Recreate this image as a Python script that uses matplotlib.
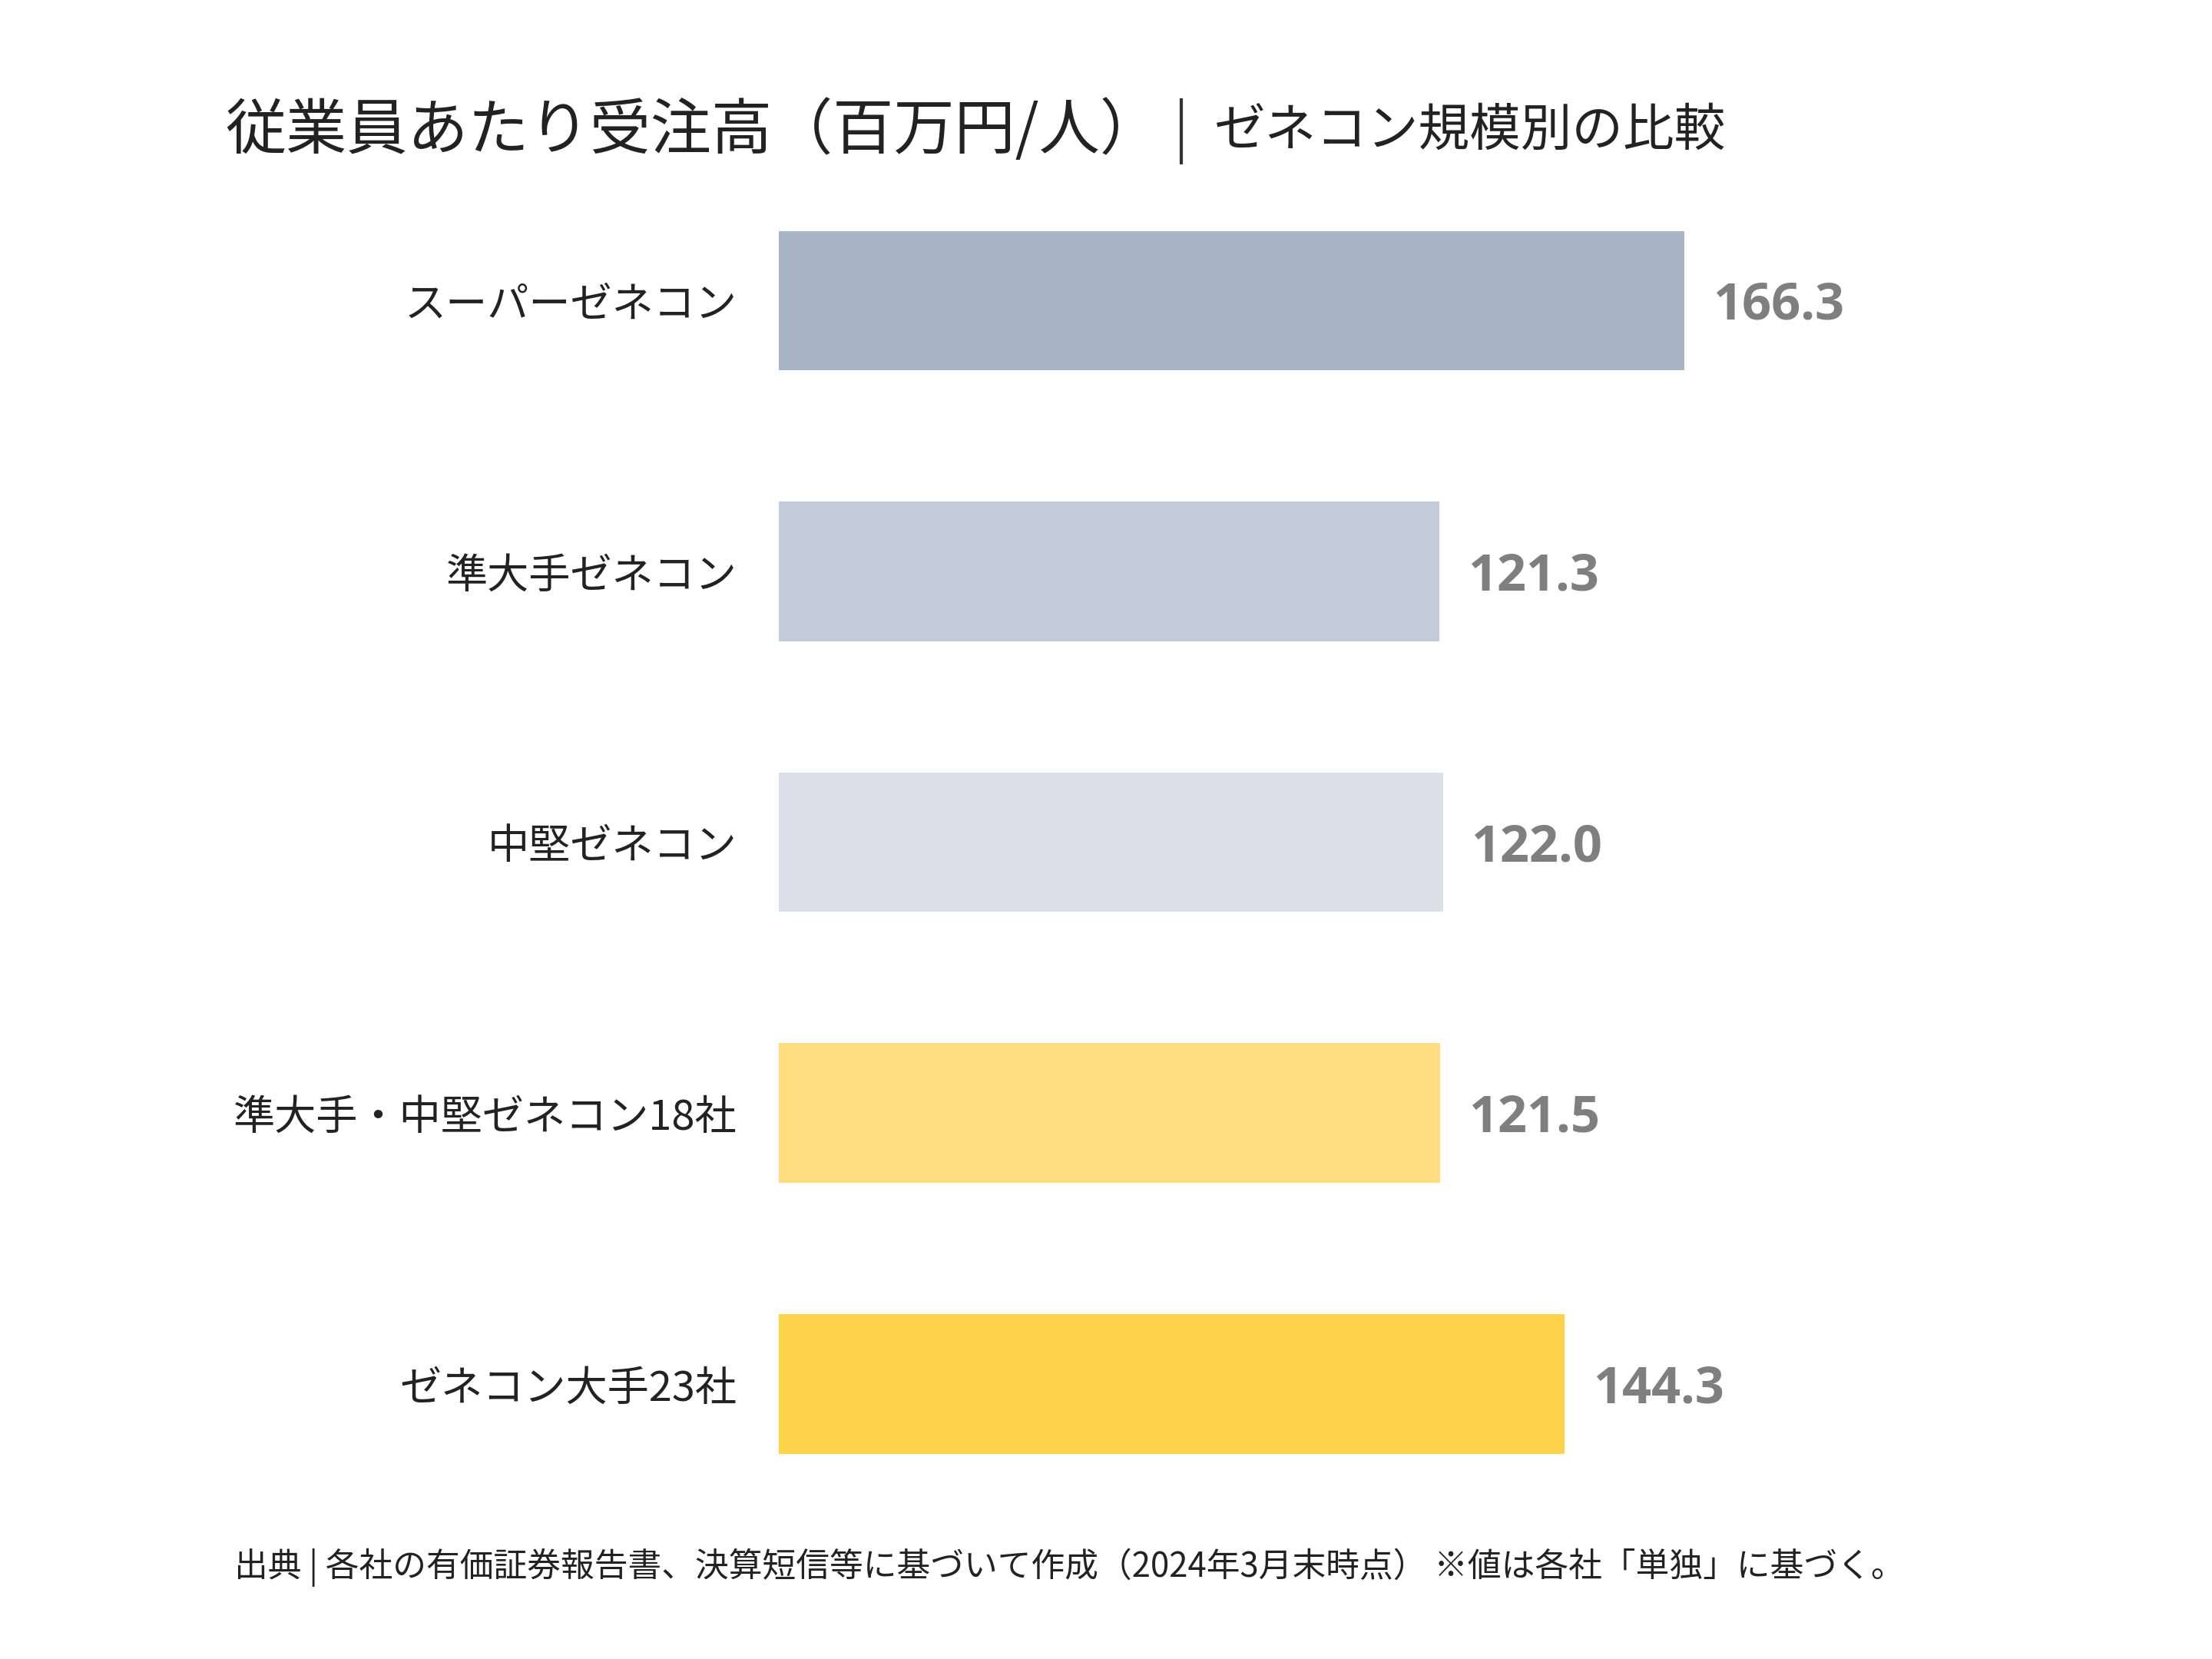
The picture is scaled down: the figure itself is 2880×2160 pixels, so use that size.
import matplotlib.pyplot as plt
from matplotlib.lines import Line2D

categories = ["スーパーゼネコン", "準大手ゼネコン", "中堅ゼネコン", "準大手・中堅ゼネコン18社", "ゼネコン大手23社"]
values = [166.3, 121.3, 122.0, 121.5, 144.3]
colors = ["#A9B5C7", "#C2CBD7", "#DAE0E8", "#FEDD80", "#FDD34A"]

JP = "Noto Sans CJK JP"

fig = plt.figure(figsize=(9.6, 7.2), dpi=300)
ax = fig.add_axes([0.352, 0.0842, 0.64, 0.8162])

pos = list(range(len(categories)))
ax.barh(pos, values, height=0.515, color=colors)
ax.set_ylim(4.5, -0.5)
ax.set_xlim(0, 260)
ax.set_yticks(pos)
ax.set_yticklabels(categories, fontfamily=JP, fontsize=13, color="#222222")
ax.tick_params(axis="y", length=0, pad=13)
ax.set_xticks([])
for s in ax.spines.values():
    s.set_visible(False)

for p, v in zip(pos, values):
    ax.text(v + 5.2, p + 0.02, f"{v:.1f}", va="center", ha="left",
            fontfamily="Open Sans", fontweight="bold", fontsize=16, color="#7F7F7F")

fig.text(0.102, 0.921, "従業員あたり受注高（百万円/人）", fontfamily=JP, fontsize=19,
         color="#222222", va="center", ha="left")
fig.add_artist(Line2D([0.534, 0.534], [0.902, 0.940], color="#333333", lw=1.0))
fig.text(0.549, 0.921, "ゼネコン規模別の比較", fontfamily=JP, fontsize=16,
         color="#222222", va="center", ha="left")

fig.text(0.106, 0.055, "出典 | 各社の有価証券報告書、決算短信等に基づいて作成（2024年3月末時点） ※値は各社「単独」に基づく。",
         fontfamily=JP, fontsize=10.5, color="#222222", va="center", ha="left")

fig.savefig("out.png", dpi=300, facecolor="white")
